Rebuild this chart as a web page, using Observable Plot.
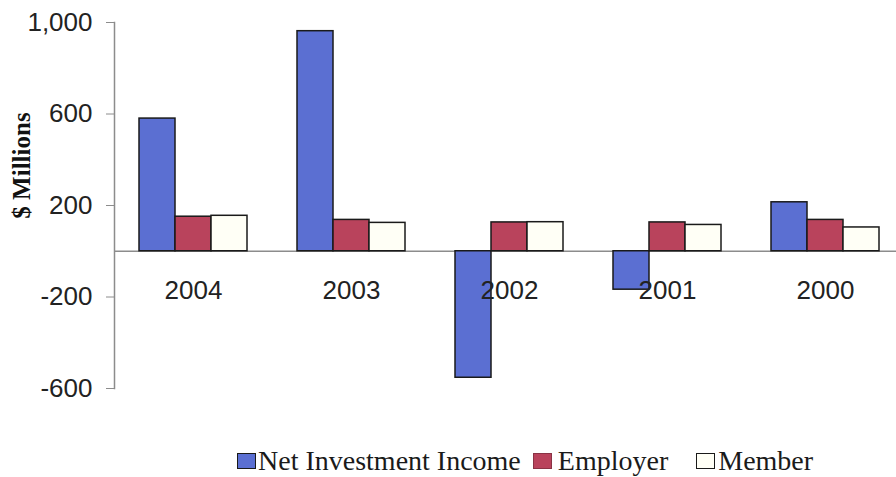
<!DOCTYPE html>
<html>
<head>
<meta charset="utf-8">
<script src="https://cdn.jsdelivr.net/npm/d3@7"></script>
<script src="https://cdn.jsdelivr.net/npm/@observablehq/plot@0.6"></script>
<style>
  html, body { margin: 0; padding: 0; background: #fff; }
  #wrap { position: relative; width: 896px; height: 477px; overflow: hidden; background: #fff; }
  #legend { position: absolute; left: 237px; top: 446px; display: flex; align-items: center;
            font-family: "Liberation Serif", "Times New Roman", serif; font-size: 28px; color: #1a1a1a; line-height: 30px; }
  .item { display: flex; align-items: center; }
  .sw { width: 17px; height: 14px; border: 1.5px solid #1a1a1a; display: inline-block; }
</style>
</head>
<body>
<div id="wrap"><div id="chart"></div><div id="legend"></div></div>
<script>
const years = ["2004", "2003", "2002", "2001", "2000"];
const seriesNames = ["Net Investment Income", "Employer", "Member"];
const netInvestmentIncome = [580, 962, -553, -168, 214];
const employer = [151, 137, 126, 126, 137];
const member = [155, 124, 127, 115, 104];
const yTicks = [-600, -200, 200, 600, 1000];
const colors = ["#5b6fd2", "#b9435c", "#fffff6"];

const seriesValues = [netInvestmentIncome, employer, member];
const data = [];
years.forEach((yr, i) => {
  seriesNames.forEach((s, j) => data.push({year: yr, series: s, value: seriesValues[j][i]}));
});

const W = 896, H = 430, mL = 114, mR = -8;
const step = (W - mL - mR) / years.length;
const fmt = d => d.toLocaleString("en-US");

const chart = Plot.plot({
  width: W,
  height: H,
  marginLeft: mL,
  marginRight: mR,
  marginTop: 22,
  marginBottom: 42,
  style: {fontFamily: "'Liberation Sans', Arial, sans-serif", fontSize: "26px", color: "#222", background: "white", overflow: "visible"},
  fx: {domain: years, padding: 0, axis: null},
  x: {domain: seriesNames, paddingInner: 0, paddingOuter: 0.69, axis: null},
  y: {domain: [-600, 1000], axis: null},
  color: {domain: seriesNames, range: colors},
  marks: [
    Plot.ruleY([0], {stroke: "#8c8c8c", strokeWidth: 1.5}),
    Plot.ruleX(years.slice(1), {fx: d => d, y1: () => 0, y2: () => 0, insetBottom: -8, dx: -step / 2, stroke: "#8c8c8c", strokeWidth: 1.2}),
    Plot.barY(data, {fx: "year", x: "series", y: "value", fill: "series", stroke: "#1a1a1a", strokeWidth: 1.5}),
    Plot.frame({anchor: "left", facetAnchor: "left", stroke: "#8c8c8c", strokeWidth: 1.5}),
    Plot.axisY({ticks: yTicks, tickSize: 8, tickPadding: 14, tickFormat: fmt, stroke: "#8c8c8c", fill: "#222", label: null, facetAnchor: "left"}),
    Plot.text(years, {fx: d => d, y: () => 0, text: d => d, dy: 39, fill: "#222", fontSize: 26}),
    Plot.text(["$ Millions"], {frameAnchor: "left", facetAnchor: "left", textAnchor: "middle", lineAnchor: "middle", rotate: -90, dx: -93, dy: -40,
      fontFamily: "'Liberation Serif', 'Times New Roman', serif", fontWeight: "bold", fontSize: 25, fill: "#111"})
  ]
});
document.getElementById("chart").appendChild(chart);

const legend = document.getElementById("legend");
const gaps = [0, 12, 28];
const textGaps = [2, 6, 3];
seriesNames.forEach((s, i) => {
  const item = document.createElement("div");
  item.className = "item";
  item.style.marginLeft = gaps[i] + "px";
  const sw = document.createElement("span");
  sw.className = "sw";
  sw.style.background = colors[i];
  if (i === 1) sw.style.borderColor = "#8a3345";
  const t = document.createElement("span");
  t.textContent = s;
  t.style.marginLeft = textGaps[i] + "px";
  item.appendChild(sw);
  item.appendChild(t);
  legend.appendChild(item);
});
</script>
</body>
</html>
